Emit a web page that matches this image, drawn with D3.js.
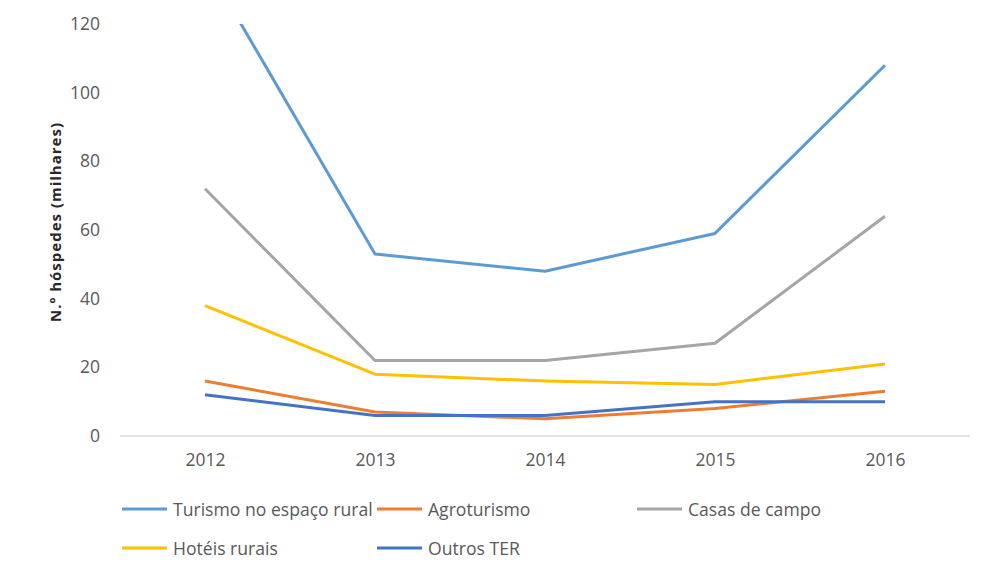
<!DOCTYPE html>
<html>
<head>
<meta charset="utf-8">
<script src="https://cdn.jsdelivr.net/npm/d3@7"></script>
<style>
  body { margin: 0; background: #fff; }
  svg { display: block; }
  text { font-family: "Open Sans", Lato, sans-serif; }
</style>
</head>
<body>
<svg id="chart" width="981" height="566"></svg>
<script>
const years = ["2012", "2013", "2014", "2015", "2016"];
const seriesNames = ["Turismo no espaço rural", "Agroturismo", "Casas de campo", "Hotéis rurais", "Outros TER"];
const turismo = [138, 53, 48, 59, 108];
const agroturismo = [16, 7, 5, 8, 13];
const casasCampo = [72, 22, 22, 27, 64];
const hoteisRurais = [38, 18, 16, 15, 21];
const outrosTER = [12, 6, 6, 10, 10];
const yTicks = [0, 20, 40, 60, 80, 100, 120];
const colors = ["#5b9bd5", "#ed7d31", "#a5a5a5", "#ffc000", "#4472c4"];
const yTitle = "N.º hóspedes (milhares)";

const seriesValues = [turismo, agroturismo, casasCampo, hoteisRurais, outrosTER];
const series = seriesNames.map((n, i) => ({ name: n, values: seriesValues[i], color: colors[i] }));

const svg = d3.select("#chart");
const plotLeft = 120, plotRight = 970, plotTop = 24, plotBottom = 436;

const x = d3.scalePoint().domain(years).range([plotLeft, plotRight]).padding(0.5);
const y = d3.scaleLinear().domain([0, 120]).range([plotBottom, plotTop]);

svg.append("defs").append("clipPath").attr("id", "plotclip")
  .append("rect").attr("x", plotLeft).attr("y", plotTop).attr("width", plotRight - plotLeft).attr("height", plotBottom - plotTop + 4);

// x axis baseline
svg.append("line")
  .attr("x1", plotLeft).attr("x2", plotRight)
  .attr("y1", y(0)).attr("y2", y(0))
  .attr("stroke", "#d9d9d9").attr("stroke-width", 1.5);

// y tick labels
const yAxis = d3.axisLeft(y).tickValues(yTicks).tickSize(0).tickPadding(0);
const yg = svg.append("g").attr("transform", "translate(100,0)").call(yAxis);
yg.select(".domain").remove();
yg.selectAll("text").attr("fill", "#595959").attr("font-size", 17.5).attr("font-family", "Lato, sans-serif");

// x tick labels
const xAxis = d3.axisBottom(x).tickSize(0).tickPadding(0);
const xg = svg.append("g").attr("transform", `translate(0,${y(0) + 18})`).call(xAxis);
xg.select(".domain").remove();
xg.selectAll("text").attr("fill", "#595959").attr("font-size", 17.5).attr("font-family", "Lato, sans-serif");

// y title
svg.append("text")
  .attr("transform", `translate(55,${(plotTop + plotBottom) / 2 - 8}) rotate(-90)`)
  .attr("text-anchor", "middle").attr("dominant-baseline", "central")
  .attr("font-size", 15).attr("font-weight", "bold").attr("fill", "#262626")
  .attr("letter-spacing", 1)
  .attr("font-family", "'DejaVu Sans', sans-serif")
  .text(yTitle);

// lines
const line = d3.line().x((d, i) => x(years[i])).y(d => y(d));
const plot = svg.append("g").attr("clip-path", "url(#plotclip)");
plot.selectAll("path.series").data(series).join("path")
  .attr("class", "series")
  .attr("fill", "none")
  .attr("stroke", d => d.color)
  .attr("stroke-width", 3)
  .attr("stroke-linejoin", "round")
  .attr("d", d => line(d.values));

// legend
const legendPos = [
  { x: 122, y: 509 }, { x: 377, y: 509 }, { x: 637, y: 509 },
  { x: 122, y: 548 }, { x: 377, y: 548 }
];
const lg = svg.append("g").selectAll("g").data(series).join("g")
  .attr("transform", (d, i) => `translate(${legendPos[i].x},${legendPos[i].y})`);
lg.append("line").attr("x1", 0).attr("x2", 45).attr("y1", 0).attr("y2", 0)
  .attr("stroke", d => d.color).attr("stroke-width", 3);
lg.append("text").attr("x", 51).attr("y", 0).attr("dominant-baseline", "central")
  .attr("font-size", 17.6).attr("fill", "#595959").text(d => d.name);
</script>
</body>
</html>
